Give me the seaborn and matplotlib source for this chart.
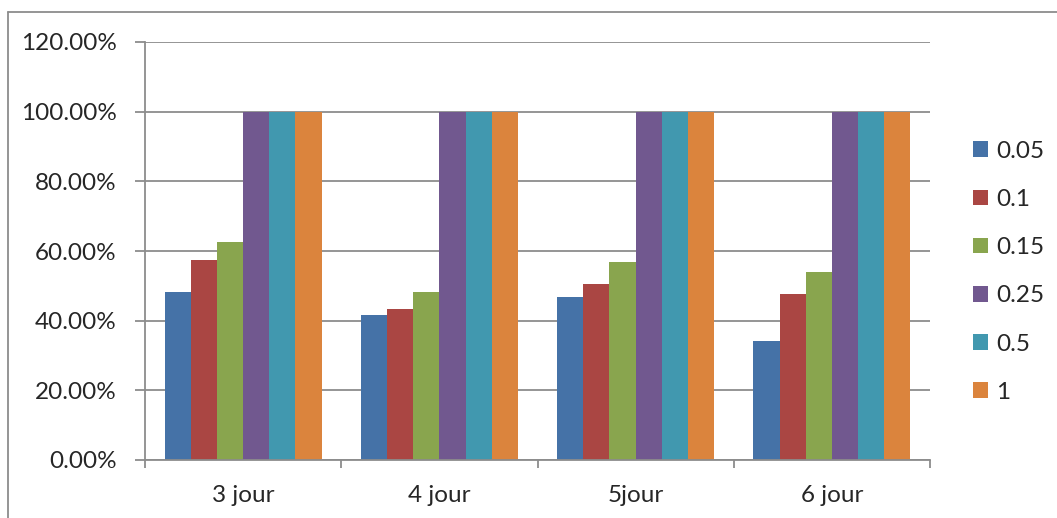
import matplotlib
matplotlib.use("Agg")
import matplotlib.pyplot as plt
from matplotlib.lines import Line2D
from matplotlib.patches import Patch
from matplotlib.ticker import FuncFormatter
import seaborn as sns
import pandas as pd

categories = ["3 jour", "4 jour", "5jour", "6 jour"]
series = ["0.05", "0.1", "0.15", "0.25", "0.5", "1"]
values_005 = [48.3, 41.6, 46.9, 34.1]
values_01 = [57.4, 43.3, 50.5, 47.6]
values_015 = [62.7, 48.3, 56.7, 54.1]
values_025 = [100.0, 100.0, 100.0, 100.0]
values_05 = [100.0, 100.0, 100.0, 100.0]
values_1 = [100.0, 100.0, 100.0, 100.0]
yticks = [0, 20, 40, 60, 80, 100, 120]

colors = ["#4572A7", "#AA4643", "#89A54E", "#71588F", "#4198AF", "#DB843D"]

all_values = [values_005, values_01, values_015, values_025, values_05, values_1]
rows = []
for s, vals in zip(series, all_values):
    for c, v in zip(categories, vals):
        rows.append({"jour": c, "seuil": s, "valeur": v})
df = pd.DataFrame(rows)

sns.set_style("white")
plt.rcParams["font.family"] = ["Lato", "DejaVu Sans"]
FS = 17.5

W, H = 1057, 518
fig = plt.figure(figsize=(W / 100, H / 100), dpi=100)
ax = fig.add_axes([145 / W, 1 - 460 / H, (930 - 145) / W, (460 - 42) / H])

sns.barplot(data=df, x="jour", y="valeur", hue="seuil", hue_order=series,
            order=categories, palette=colors, width=0.8, gap=0,
            saturation=1, ax=ax, legend=False, edgecolor="none")

ax.set_ylim(0, 120)
ax.set_xlim(-0.5, 3.5)
ax.set_yticks(yticks)
ax.yaxis.set_major_formatter(FuncFormatter(lambda v, p: f"{v:.2f}%"))
ax.set_xlabel("")
ax.set_ylabel("")
ax.grid(axis="y", color="#8c8c8c", linewidth=1.3)
ax.set_axisbelow(True)
for side in ["top", "right"]:
    ax.spines[side].set_visible(False)
for side in ["left", "bottom"]:
    ax.spines[side].set_color("#8c8c8c")
    ax.spines[side].set_linewidth(1.3)

ax.tick_params(axis="y", which="major", direction="out", length=7.5, width=1.3,
               color="#8c8c8c", labelsize=FS, pad=13, left=True)
ax.set_xticks(range(len(categories)))
ax.set_xticklabels(categories)
ax.tick_params(axis="x", which="major", length=0, labelsize=FS, pad=18)
ax.set_xticks([-0.5, 0.5, 1.5, 2.5, 3.5], minor=True)
ax.tick_params(axis="x", which="minor", direction="out", length=6, width=1.3,
               color="#8c8c8c", bottom=True)

handles = [Patch(facecolor=c, edgecolor="none") for c in colors]
fig.legend(handles, series, loc="upper left", bbox_to_anchor=(963 / W, 1 - 131 / H),
           frameon=False, fontsize=FS, handlelength=0.62, handleheight=0.62,
           handletextpad=0.35, labelspacing=1.12, borderaxespad=0)

# chart area border
fig.add_artist(Line2D([8 / W, 1.0], [1 - 12 / H, 1 - 12 / H], color="#8c8c8c",
                      linewidth=1.3, transform=fig.transFigure))
fig.add_artist(Line2D([8 / W, 8 / W], [1 - 12 / H, 0.0], color="#8c8c8c",
                      linewidth=1.3, transform=fig.transFigure))

fig.savefig("out.png", dpi=100)
